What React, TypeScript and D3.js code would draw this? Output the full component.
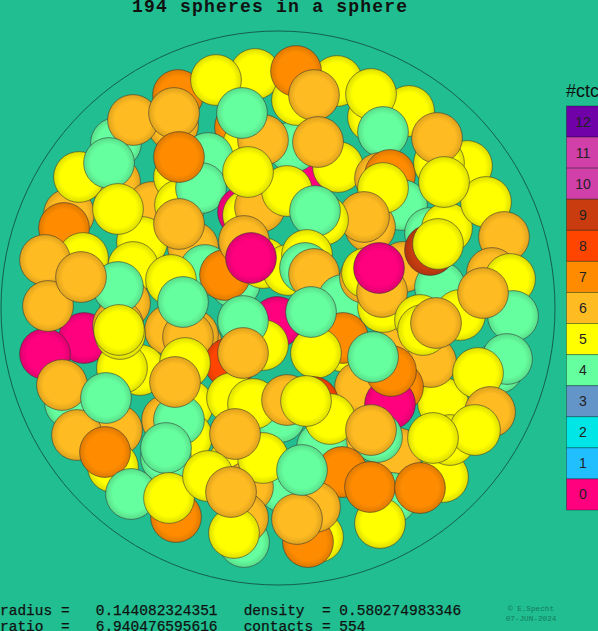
import React from "react";
import * as d3 from "d3";

const sphereX = [
  22, 2, -38, -30, 15, -15, -23, -100, 19, 59, 18,
  -62, -105, -162, -145, -104, -36, 36, 95, 131, 93,
  105, -209, -163, -199, -169, -126, -70, -99, -98, -77,
  -99, -136, -160, -214, -85, -145, -195, -233, -194, -233,
  -230, -153, -160, -160, -197, -99, -43, -73, -53, -107,
  -81, -85, -108, -90, -95, -48, -138, -156, -158, -159,
  -90, -91, -93, -111, -99, -103, -112, -112, -46, -25,
  -1, -15, -35, -35, -35, -30, -18, 9, 60,
  40, -30, 102, 112, 124, 92, 105, 86, 45, 37,
  -15, 10, 29, 27, 36, -34, -27, 65, 125, 87, 89,
  119, 105, 104, 101, 162, 152, 169, 152, 160, 189,
  161, 159, 208, 166, 226, 214, 232, 235, 182, 220,
  229, 165, 153, 142, 145, 158, 205, 200, 67,
  65, 38, 33, 82, 120, 112, 113, 95, 35, 62,
  44, 52, 9, 28, 119, 99, 93, 114, 102, 64,
  92, 212, 165, 172, 197, 155, 142, -208, -216, -161,
  -201, -172, -165, -173, -147, -102, -109, -43, 5, -30,
  -15, -43, -70, -34, -35, -44, -47, 40, 30, 37, 19, 24,
];

const sphereY = [
  -128, 109, -181, -163, -161, -168, -234, -213, -208, -227, -237,
  -228, -183, -165, -188, -195, -195, -213, -191, -197, -214,
  -176, -94, -126, -131, -145, -101, -150, -131, -103, -120,
  -151, -66, -99, -80, -61, -41, -50, -48, 30, 46,
  -2, -5, 17, -21, -31, -84, -25, -38, -33, -28,
  37, 27, 22, 29, -6, 55, 62, 60, 26, 22,
  97, 129, 55, 112, 112, 74, 150, 140, 90, 96,
  14, 37, 13, 45, -96, -93, -101, -117, -141,
  -166, -136, -130, -133, -103, -81, -120, -91, -88, -97,
  -45, -38, -53, -40, -34, -67, -50, -8, -41, -30, -35,
  42, -1, -16, -40, -21, -75, -80, -58, -64, -142,
  -145, -170, -106, -126, -71, -35, -29, 8, 7, 60,
  51, 95, 54, 12, 22, 15, -15, 65, 39,
  30, 45, 4, 79, 79, 96, 63, 49, 94, 129,
  139, 111, 92, 93, 145, 129, 122, 190, 215, 164,
  179, 104, 169, 132, 122, 130, 180, 95, 77, 122,
  127, 90, 159, 144, 186, 209, 190, 152, 179, 179,
  150, 126, 168, 234, 210, 225, 184, 229, 234, 199, 211, 162,
];

const sphereCtc = [
  0, 4, 7, 5, 4, 6, 5, 7, 5, 5, 7,
  5, 6, 4, 6, 6, 4, 6, 5, 5, 5,
  4, 6, 6, 5, 4, 6, 4, 5, 5, 4,
  7, 5, 5, 7, 6, 5, 5, 6, 0, 0,
  6, 6, 6, 4, 6, 6, 4, 4, 7, 5,
  6, 6, 6, 6, 4, 8, 5, 5, 5, 5,
  5, 5, 5, 6, 4, 6, 4, 4, 5, 5,
  0, 5, 4, 6, 0, 5, 6, 5, 5,
  6, 5, 6, 7, 4, 6, 5, 6, 5, 4,
  5, 5, 5, 4, 6, 6, 0, 4, 6, 6, 5,
  6, 5, 6, 0, 4, 4, 5, 9, 5, 5,
  5, 6, 5, 5, 6, 6, 5, 4, 5, 4,
  4, 5, 6, 5, 5, 6, 6, 5, 5,
  7, 5, 4, 6, 7, 0, 7, 4, 8, 6,
  4, 5, 6, 5, 6, 4, 6, 4, 5, 7,
  7, 6, 5, 5, 5, 5, 7, 4, 6, 6,
  6, 4, 5, 7, 4, 7, 5, 5, 4, 6,
  5, 6, 5, 4, 6, 5, 6, 5, 7, 6, 6, 4,
];

const ctcLevels = [12, 11, 10, 9, 8, 7, 6, 5, 4, 3, 2, 1, 0];
const ctcColors = [
  "#7000a8", "#d040a8", "#d040a8", "#c83c10", "#ff4500", "#ff8c00", "#ffbb22",
  "#ffff00", "#66ff9f", "#6495c8", "#00e5e5", "#22bfff", "#ff007f",
];

const titleText = "194 spheres in a sphere";
const legendTitle = "#ctc";
const footerLines = [
  "radius =   0.144082324351   density  = 0.580274983346",
  "ratio  =   6.940476595616   contacts = 554",
];
const creditLines = ["© E.Specht", "07-JUN-2024"];

const BG = "#20be90";

export default function App() {
  const x = d3.scaleLinear().domain([-277, 277]).range([1, 555]);
  const y = d3.scaleLinear().domain([-277, 277]).range([31, 585]);
  const color = d3.scaleOrdinal<number, string>().domain(ctcLevels).range(ctcColors);
  const band = d3.scaleBand<number>().domain(ctcLevels).range([106, 510]);
  const r = x(25.4) - x(0);
  const bigR = x(277) - x(0);

  return (
    <svg
      width={598}
      height={631}
      viewBox="0 0 598 631"
      style={{ position: "absolute", left: 0, top: 0, display: "block" }}
    >
      <defs>
        {ctcLevels.map((c) => (
          <radialGradient key={c} id={`ball${c}`} cx="50%" cy="50%" r="50%">
            <stop offset="0%" stopColor={color(c)} />
            <stop offset="72%" stopColor={color(c)} />
            <stop offset="100%" stopColor={d3.rgb(color(c)).darker(0.4).formatHex()} />
          </radialGradient>
        ))}
      </defs>
      <rect x={0} y={0} width={598} height={631} fill={BG} />
      <text
        x={132}
        y={12}
        textLength={275}
        lengthAdjust="spacing"
        fontFamily="'Liberation Mono', monospace"
        fontWeight="bold"
        fontSize={18}
        fill="#111"
      >
        {titleText}
      </text>
      <circle cx={x(0)} cy={y(0)} r={bigR} fill="none" stroke="#14604c" strokeWidth={1} />
      {sphereX.map((v, i) => (
        <circle
          key={i}
          cx={x(v)}
          cy={y(sphereY[i])}
          r={r}
          fill={`url(#ball${sphereCtc[i]})`}
          stroke="#333"
          strokeOpacity={0.65}
          strokeWidth={0.85}
        />
      ))}
      <text x={566} y={97} fontFamily="'Liberation Sans', sans-serif" fontSize={18} fill="#111">
        {legendTitle}
      </text>
      {ctcLevels.map((c) => (
        <g key={c}>
          <rect
            x={566.5}
            y={band(c)}
            width={40}
            height={band.bandwidth()}
            fill={color(c)}
            stroke="#000"
            strokeOpacity={0.3}
            strokeWidth={1}
          />
          <text
            x={583}
            y={(band(c) as number) + band.bandwidth() / 2 + 5}
            textAnchor="middle"
            fontFamily="'Liberation Sans', sans-serif"
            fontSize={14}
            fill="#222"
          >
            {c}
          </text>
        </g>
      ))}
      {footerLines.map((t, i) => (
        <text
          key={t}
          x={0}
          y={614.5 + i * 16}
          xmlSpace="preserve"
          fontFamily="'Liberation Mono', monospace"
          fontSize={14.5}
          fill="#111"
          stroke="#111"
          strokeWidth={0.25}
          style={{ whiteSpace: "pre" }}
        >
          {t}
        </text>
      ))}
      {creditLines.map((t, i) => (
        <text
          key={t}
          x={531}
          y={611 + i * 10}
          textAnchor="middle"
          fontFamily="'Liberation Mono', monospace"
          fontSize={7.7}
          fill="#157a5e"
        >
          {t}
        </text>
      ))}
    </svg>
  );
}
